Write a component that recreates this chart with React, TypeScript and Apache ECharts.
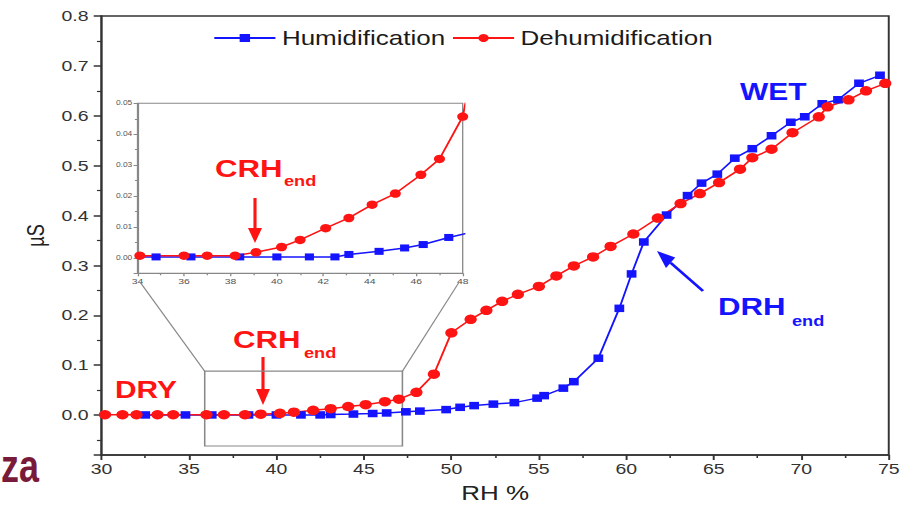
import React, { useEffect, useRef } from 'react';
import * as echarts from 'echarts';

// Reference image is horizontally stretched; reproduce by drawing narrower and scaling X.
const S = 1.3;
const W = 904 / S;
const H = 508;
const px = (xs: number) => xs / S;

const FONT = '"Liberation Sans", Arial, Helvetica, sans-serif';
const RED = '#ff1414';
const BLUE = '#1414ff';

// Humidification (blue squares)
const humidRH = [32.5, 34.8, 36.3, 38.4, 40.0, 41.4, 42.5, 43.1, 44.4, 45.5, 46.3, 47.4, 48.2, 49.7, 50.5, 51.3, 52.4, 53.6, 54.9, 55.3, 56.4, 57.0, 58.4, 59.6, 60.3, 61.0, 62.3, 63.5, 64.3, 65.2, 66.2, 67.2, 68.3, 69.4, 70.2, 71.2, 72.1, 73.3, 74.5];
const humidUS = [0.0003, 0.0003, 0.0003, 0.0003, 0.0003, 0.0003, 0.0003, 0.0011, 0.0021, 0.0032, 0.0043, 0.0066, 0.008, 0.011, 0.0156, 0.019, 0.022, 0.025, 0.034, 0.039, 0.054, 0.067, 0.114, 0.214, 0.283, 0.347, 0.401, 0.44, 0.465, 0.483, 0.515, 0.534, 0.56, 0.587, 0.598, 0.624, 0.632, 0.665, 0.681];

// Dehumidification (red circles)
const dehumRH = [30.2, 31.2, 32.0, 33.2, 34.1, 36.0, 37.0, 38.2, 39.1, 40.2, 41.0, 42.1, 43.1, 44.1, 45.1, 46.2, 47.0, 48.0, 49.0, 50.0, 51.1, 52.0, 52.9, 53.8, 55.0, 56.0, 57.0, 58.1, 59.1, 60.4, 61.8, 63.1, 64.2, 65.3, 66.5, 67.2, 68.3, 69.5, 71.0, 71.5, 72.7, 73.7, 74.8];
const dehumUS = [0.0007, 0.0007, 0.0007, 0.0007, 0.0007, 0.0007, 0.0007, 0.0007, 0.0018, 0.0035, 0.0058, 0.0096, 0.0129, 0.0172, 0.0208, 0.0269, 0.032, 0.0457, 0.082, 0.165, 0.192, 0.21, 0.228, 0.242, 0.258, 0.279, 0.299, 0.317, 0.338, 0.363, 0.395, 0.424, 0.444, 0.466, 0.493, 0.516, 0.533, 0.566, 0.598, 0.618, 0.632, 0.65, 0.665];

const seriesNames = ['Humidification', 'Dehumidification'];
const axisNames = { x: 'RH %', y: 'µS' };

const pairs = (xs: number[], ys: number[]) => xs.map((x, i) => [x, ys[i]]);

const txt = (text: string, xs: number, y: number, color: string, size: number) => ({
  type: 'text',
  x: px(xs),
  y,
  silent: true,
  style: { text, fill: color, fontSize: size, fontWeight: 'bold', fontFamily: FONT, verticalAlign: 'middle', align: 'left' },
});
const line = (x1: number, y1: number, x2: number, y2: number, color: string, w: number) => ({
  type: 'line',
  silent: true,
  shape: { x1: px(x1), y1, x2: px(x2), y2 },
  style: { stroke: color, lineWidth: w },
});
const tri = (pts: number[][], color: string) => ({
  type: 'polygon',
  silent: true,
  shape: { points: pts.map(([x, y]) => [px(x), y]) },
  style: { fill: color },
});

export default function App() {
  const ref = useRef<HTMLDivElement>(null);
  useEffect(() => {
    if (!ref.current) return;
    const chart = echarts.init(ref.current, undefined, { renderer: 'svg' });
    const mainAxisLine = { show: true, onZero: false, lineStyle: { color: '#333', width: 1.5 } };
    const insetAxisLine = { show: true, onZero: false, lineStyle: { color: '#888', width: 1 } };
    chart.setOption({
      animation: false,
      textStyle: { fontFamily: FONT },
      legend: {
        data: seriesNames,
        left: px(213),
        top: 28,
        padding: 0,
        itemWidth: 47,
        itemHeight: 10,
        itemGap: 5,
        textStyle: { fontSize: 20, color: '#1a1a1a', fontFamily: FONT },
      },
      grid: [
        { left: px(101.5), right: W - px(895), top: 16, bottom: 51, show: true, borderColor: '#333', borderWidth: 1.5, backgroundColor: 'transparent' },
        { left: px(137.5), top: 103.3, width: px(462.7) - px(137.5), height: 170, show: true, borderColor: '#888', borderWidth: 1, backgroundColor: 'transparent' },
      ],
      xAxis: [
        {
          type: 'value', gridIndex: 0, min: 30, max: 75, interval: 5,
          name: axisNames.x, nameLocation: 'middle', nameGap: 28,
          nameTextStyle: { fontSize: 20, color: '#222', fontFamily: FONT },
          axisLine: mainAxisLine,
          axisTick: { show: true, length: 5, lineStyle: { color: '#333', width: 1.5 } },
          minorTick: { show: true, splitNumber: 2, length: 3, lineStyle: { color: '#333', width: 1.2 } },
          axisLabel: { fontSize: 15, color: '#333', margin: 6 },
          splitLine: { show: false },
        },
        {
          type: 'value', gridIndex: 1, min: 34, max: 48, interval: 2,
          axisLine: insetAxisLine,
          axisTick: { show: true, length: 3, lineStyle: { color: '#888' } },
          minorTick: { show: true, splitNumber: 2, length: 2, lineStyle: { color: '#888' } },
          axisLabel: { fontSize: 8, color: '#555', margin: 4 },
          splitLine: { show: false },
        },
      ],
      yAxis: [
        {
          type: 'value', gridIndex: 0, min: -0.08, max: 0.8, splitNumber: 9,
          name: axisNames.y, nameLocation: 'middle', nameGap: 35,
          nameTextStyle: { fontSize: 18, color: '#222', fontFamily: FONT },
          axisLine: mainAxisLine,
          axisTick: { show: true, length: 6, lineStyle: { color: '#333', width: 1.5 } },
          minorTick: { show: true, splitNumber: 2, length: 3.5, lineStyle: { color: '#333', width: 1.2 } },
          axisLabel: { fontSize: 15, color: '#333', margin: 10, showMinLabel: false, formatter: (v: number) => (v < -1e-9 ? '' : v.toFixed(1)) },
          splitLine: { show: false },
        },
        {
          type: 'value', gridIndex: 1, min: -0.005, max: 0.05, splitNumber: 5,
          axisLine: insetAxisLine,
          axisTick: { show: true, length: 3, lineStyle: { color: '#888' } },
          minorTick: { show: true, splitNumber: 2, length: 2, lineStyle: { color: '#888' } },
          axisLabel: { fontSize: 6.5, color: '#555', margin: 4, showMinLabel: false, formatter: (v: number) => (v < -1e-9 ? '' : v.toFixed(2)) },
          splitLine: { show: false },
        },
      ],
      series: [
        {
          name: seriesNames[0], type: 'line', xAxisIndex: 0, yAxisIndex: 0,
          data: pairs(humidRH, humidUS),
          symbol: 'rect', symbolSize: 7.5,
          itemStyle: { color: BLUE }, lineStyle: { color: BLUE, width: 1.5 },
          markArea: {
            silent: true,
            itemStyle: { color: 'rgba(0,0,0,0)', borderColor: '#888', borderWidth: 1.2 },
            data: [[{ coord: [35.9, 0.088] }, { coord: [47.2, -0.062] }]],
          },
          markLine: {
            silent: true,
            symbol: ['none', 'none'],
            label: { show: false },
            lineStyle: { color: '#888', width: 1, type: 'solid' },
            data: [
              [{ coord: [35.9, 0.088] }, { coord: [32.2, 0.267] }],
              [{ coord: [47.2, 0.088] }, { coord: [50.45, 0.267] }],
            ],
          },
        },
        {
          name: seriesNames[1], type: 'line', xAxisIndex: 0, yAxisIndex: 0,
          data: pairs(dehumRH, dehumUS),
          symbol: 'circle', symbolSize: 9.5,
          itemStyle: { color: RED }, lineStyle: { color: RED, width: 1.5 },
        },
        {
          name: seriesNames[0], type: 'line', xAxisIndex: 1, yAxisIndex: 1, clip: true,
          data: pairs(humidRH, humidUS),
          symbol: 'rect', symbolSize: 7,
          itemStyle: { color: BLUE }, lineStyle: { color: BLUE, width: 1.5 },
        },
        {
          name: seriesNames[1], type: 'line', xAxisIndex: 1, yAxisIndex: 1, clip: true,
          data: pairs(dehumRH, dehumUS),
          symbol: 'circle', symbolSize: 8.5,
          itemStyle: { color: RED }, lineStyle: { color: RED, width: 1.5 },
        },
      ],
      graphic: [
        txt('WET', 740, 92, BLUE, 23),
        txt('DRY', 115, 390, RED, 23),
        // main CRH_end
        txt('CRH', 233, 340, RED, 24),
        txt('end', 304, 353, RED, 14),
        line(263, 357, 263, 392, RED, 2.4),
        tri([[256, 389], [270, 389], [263, 405]], RED),
        // inset CRH_end
        txt('CRH', 215, 168.5, RED, 24),
        txt('end', 284, 181, RED, 14),
        line(255, 198, 255, 230, RED, 2.4),
        tri([[248, 228], [262, 228], [255, 243]], RED),
        // DRH_end
        txt('DRH', 718, 307, BLUE, 24),
        txt('end', 792, 321, BLUE, 14),
        line(703, 291, 670.6, 262.8, BLUE, 2.4),
        tri([[657, 251], [666, 268.1], [675.2, 257.5]], BLUE),
        // slide fragment at left edge
        {
          type: 'text', x: px(1), y: 466, scaleX: 0.6, silent: true,
          style: { text: 'za', fill: '#7a1a3a', fontSize: 46, fontWeight: 'bold', fontFamily: FONT, verticalAlign: 'middle', align: 'left' },
        },
      ],
    });
    return () => chart.dispose();
  }, []);
  return (
    <div
      ref={ref}
      style={{
        position: 'fixed',
        left: 0,
        top: 0,
        width: W,
        height: H,
        transform: `scaleX(${S})`,
        transformOrigin: '0 0',
        background: '#fff',
      }}
    />
  );
}
